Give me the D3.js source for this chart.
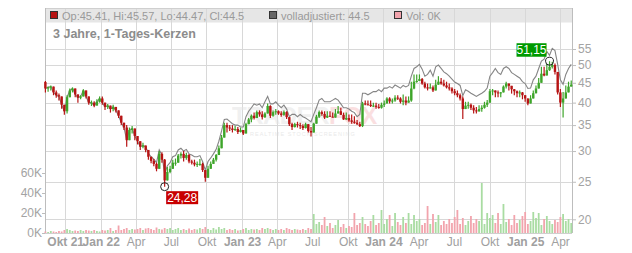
<!DOCTYPE html>
<html lang="de">
<head>
<meta charset="UTF-8">
<title>3 Jahre, 1-Tages-Kerzen</title>
<script src="https://cdn.jsdelivr.net/npm/d3@7"></script>
<style>
  html, body { margin: 0; background: #fff; }
  svg { display: block; font-family: "Liberation Sans", Arial, sans-serif; }
</style>
</head>
<body>
<svg id="chart" width="632" height="253"></svg>
<script>
// weekly candles (week of 2021-08-09 .. week of 2025-04-28)
const firstOpen = 45.2;
const closes = [
  43.5, 43.8, 44, 42.5, 41.8, 41.5, 39.5, 38,
  41.3, 43, 43.5, 42, 41.2, 41.5, 43, 41.5, 40,
  40, 39.3, 40.2, 41, 40, 39, 39.3, 38.5, 39,
  38.2, 37, 35.5, 34.5, 32, 34, 34.3, 32.8,
  31.8, 30.8, 31, 30.2, 29, 28.3, 27.8, 27, 29.5,
  28.5, 25.2, 26.5, 27, 28, 28, 29.2, 29.5,
  28.8, 29.3, 28.2, 28, 27.7, 27.8, 27.8, 26.8, 25.6,
  27, 27.8, 28.5, 29.3, 30.5, 32.5, 35, 34.5, 34.3,
  34, 34.2, 33.6, 34, 33.3, 35.2, 36.2, 37, 36.5,
  37.8, 37.3, 36.7, 37.5, 39.2, 37, 37.8, 38,
  37.5, 37.2, 37.8, 36.7, 35.2, 34.6, 35.2, 35, 34.8,
  34.4, 35.2, 33.8, 33.5, 35.3, 36.8, 37.8, 37.4, 36.6,
  37, 36.8, 36.6, 37.5, 38, 37.2, 36.2, 36.5, 36, 35.7, 35.5, 35.2, 34.8,
  39.8,
  39.6, 39.5, 39.2, 39.3, 39, 38.8, 39.5, 39.8, 41, 40.3, 40.5, 41.2, 41, 40.2,
  40.5, 40, 40.5, 43.5, 45.3, 45.5, 46, 44.8, 43.8, 43.5,
  43.8, 43, 44.5, 45.3, 44.8, 44.3, 43.8, 43.5, 42.8, 42.3,
  41.8, 41, 38.5, 39.3, 39.5, 38.8, 38.2, 38, 38.5, 38.8,
  39.5, 40, 42.8, 43, 42.5, 42.3, 42.5, 44, 44.8, 44.2,
  43.3, 42.8, 42.3, 42.5, 41.8, 41, 39.8, 41, 42.3, 43.5,
  45, 47.5, 47, 48.5, 49.5, 50, 48, 42.5, 40, 41,
  42.5, 44, 44.5
];
const highs = [
  45.5, 44, 44.3, 44, 43, 42.2, 41, 39.2,
  41.8, 43.5, 43.8, 43.5, 41.8, 41.8, 43.3, 43, 40.8,
  40.5, 40.3, 40.8, 41.5, 41.5, 40, 39.7, 39.2, 39.5,
  39, 37.8, 36.5, 35.5, 35, 34.5, 34.8, 34,
  32.5, 31.8, 31.5, 31, 29.7, 28.8, 28.6, 28, 30,
  29.8, 28.6, 27.3, 27.5, 28.5, 28.7, 29.5, 29.8,
  30, 29.7, 29.5, 28.5, 28.5, 28.2, 28.6, 28, 26.8,
  27.5, 28.2, 28.8, 29.5, 31, 33, 35.5, 35.5, 35,
  35, 34.8, 34.6, 34.5, 34, 35.5, 36.5, 37.3, 37.7,
  38.2, 38.2, 38, 37.8, 39.8, 39.4, 38.2, 38.5,
  38.2, 38, 38.2, 38, 36.5, 35.5, 35.5, 35.7, 35.5,
  35.2, 35.5, 35, 34.6, 35.5, 37.2, 38.2, 38.2, 38,
  38, 38, 37.7, 38.5, 39.2, 38.8, 37.7, 37.7, 37.3, 37.3, 36.9, 36.1, 35.7,
  40.2,
  40.5, 40.5, 40.5, 40, 40, 39.7, 40, 40.5, 41.3, 41.3, 41, 41.8, 41.8, 41.3,
  42, 41.5, 41.5, 45.3, 47.3, 47.3, 47.3, 46.3, 45.3, 44.8,
  44.8, 44.3, 45.8, 46.8, 46.3, 45.8, 45.3, 44.8, 43.8, 43.4,
  43, 42.2, 41.5, 40.2, 40.2, 39.8, 39.4, 39, 39.4, 39.4,
  40.2, 40.6, 43.4, 43.4, 43, 43, 42.6, 44.3, 45.3, 44.8,
  43.8, 43.4, 43, 43, 42.6, 41.8, 41, 41.8, 43, 44.3,
  46.3, 49.5, 49.5, 50.4, 51.15, 51, 50.5, 46.3, 43.4, 42.6,
  44.3, 45.3, 45.6
];
const lows = [
  42.5, 42.7, 43, 41.8, 41.2, 40.5, 38.6, 37.2,
  37.5, 41.5, 42.5, 41.3, 40, 40.8, 41.8, 41, 39.5,
  39.2, 38.9, 39.3, 40, 39.5, 38.3, 38.5, 37.7, 38,
  37.7, 36.5, 35, 34, 30.8, 33, 33.3, 32,
  31.2, 30.2, 30.5, 29.8, 28.5, 27.9, 27.4, 26.6, 28.8,
  28, 24.28, 26, 26.3, 27.4, 27.5, 28.5, 28.7,
  28.2, 28.5, 27.9, 27.7, 27.4, 27.3, 27.5, 26.5, 25,
  26, 27.2, 27.8, 28.2, 29.3, 30.5, 34, 33.5, 33.8,
  33.5, 33.8, 33.2, 33.5, 33, 33.8, 35.3, 35.6, 36.2,
  36.5, 36.8, 36.2, 36.5, 37.8, 36.5, 36.8, 37.2,
  37.2, 36.8, 37, 36.3, 34.8, 34, 34.5, 34.5, 34.2,
  34, 34.3, 33.5, 32.7, 33.8, 35.6, 36.5, 37, 36.3,
  36.5, 36.8, 36.6, 36.8, 37.5, 37.2, 36.1, 36.1, 35.7, 35.3, 35.3, 35, 34.6,
  34.6,
  39.4, 39.4, 39, 39, 38.6, 38.6, 38.6, 39, 40.2, 39.8, 39.8, 40.2, 40.6, 39.8,
  39.4, 39.4, 40.2, 40.2, 43.3, 45, 45.5, 44.5, 43.5, 43,
  43.5, 42.6, 43, 44.5, 44.5, 44, 43.5, 43, 42.2, 41.8,
  41.3, 40.5, 36.3, 38.5, 38.6, 38.3, 37.5, 37.5, 37.9, 37.9,
  38.6, 39, 40, 41.8, 41.3, 41.3, 41.3, 42.5, 43.5, 43,
  42.2, 41.8, 41.3, 41.3, 40.8, 40.2, 39.4, 39.8, 41, 42.2,
  43.5, 45, 46.8, 47, 48.3, 49, 47.3, 42, 39, 36.6,
  41, 42.6, 44.2
];
const adjusted = [
  43.5, 43.8, 44, 42.5, 41.8, 41.5, 39.5, 38,
  41.3, 43, 43.5, 42, 41.2, 41.5, 43, 41.5, 40,
  40, 39.3, 40.2, 41, 40, 39, 39.3, 38.5, 39,
  38.2, 37, 35.5, 34.5, 32, 34, 34.3, 32.8,
  31.8, 30.8, 31, 30.8, 29.6, 29, 28.6, 28, 30.2,
  29.3, 26.2, 27.5, 28, 29, 29.2, 30.2, 30.5,
  30, 30.3, 29.5, 29.3, 29, 29, 29.2, 28.2, 26.8,
  28.2, 28.8, 29.5, 30.3, 31.8, 33.8, 36.2,
  36.3, 35.8, 35.3, 35, 35, 34.6, 34.6, 36.8, 38, 38.8, 39.7,
  39.4, 39.7, 38.8, 40.2, 41.5, 39.7, 39.7, 40.2, 39.4, 38.8, 39.4, 38.5,
  36.8, 37.3, 37.3, 36.8, 37.3, 36.8, 36.5, 36.1, 35.7, 37.3, 38.8, 40.6, 41, 40.2,
  40.2, 40.2, 40.6, 41, 40.6, 39.7, 38.8, 38.8, 38.5, 38, 37.7, 36.8, 37.3,
  42.3, 42.3, 41.9, 42.3, 42.7, 42.7, 43.2, 42.7, 43.6, 43.6, 44, 43.6, 44.4, 44, 43.6,
  44.3, 43.9, 44.3, 46.8, 49, 49.5, 50.2, 48.8, 46.8, 47.3, 48.5, 46.8, 49.5, 50, 49, 48, 47.5, 46.8,
  46, 45.2, 44.8, 44.3, 41.7, 43.2, 42.8, 42.3, 41.9, 41.5, 41.9, 42.3, 42.8, 43.6, 46.8, 47.8, 49, 47.8, 47.3, 49,
  49.5, 49, 47.8, 47.3, 46.8, 46.3, 45.3, 44.8, 43.5, 43.6, 45.8, 46.8, 49, 51.2, 51.8, 54.2, 53, 55.2, 54.5, 50.2,
  45.8, 44.6, 47.3, 49, 50.2
];
// volume in thousands
const volume = [
  1.5, 1, 2, 1.5, 1, 2, 1.5, 3,
  4, 3, 2, 2.5, 2, 3, 2, 3, 2.5,
  2, 3, 2, 1.5, 3, 2.5, 3, 5, 2,
  3, 7.5, 3, 4, 5, 3, 4, 3.5,
  4, 5, 3, 4.5, 5, 4, 3, 5.5, 4,
  3.5, 5, 4, 5, 3, 4, 5, 3,
  4, 3, 4.5, 3, 4, 3.5, 5, 4, 6,
  4, 3, 5, 3.5, 6, 4, 5, 3, 4,
  3, 4, 2.5, 3, 4, 5, 3, 4, 3.5,
  4, 3, 5, 4, 5, 4, 3, 4,
  3, 4, 3, 5, 4, 3, 4, 3.5, 3,
  4, 3, 5, 4, 19, 9, 11, 8, 16,
  7, 10, 5, 8, 13, 6, 9, 5, 7, 6, 20, 8, 10,
  16, 9, 7, 12, 18, 8, 10, 23, 9, 14, 18, 7, 20, 11, 8,
  16, 10, 20, 9, 18, 12, 14, 8, 10, 27, 9, 19, 11, 18, 8, 12, 9, 14,
  10, 16, 23, 9, 15, 8, 12, 17, 10, 14, 12, 50, 9, 20, 15, 18, 10, 20, 9, 29,
  11, 14, 8, 18, 10, 13, 17, 21, 9, 12, 21, 15, 20, 8, 14, 17, 12, 9, 13, 11,
  16, 19, 12, 14, 10
];

const tickLabels = ["Okt 21", "Jan 22", "Apr", "Jul", "Okt", "Jan 23", "Apr", "Jul", "Okt",
  "Jan 24", "Apr", "Jul", "Okt", "Jan 25", "Apr"];
const priceTicks = [20, 25, 30, 35, 40, 45, 50, 55];
const volTicks = [0, 20, 40, 60];

const plotL = 45, plotR = 572, plotT = 8, plotB = 233;
const svg = d3.select("#chart");

const weeks = closes.map((c, i) => d3.timeDay.offset(new Date(2021, 7, 11), 7 * i));
const opens = closes.map((c, i) => i === 0 ? firstOpen : closes[i - 1]);
const rows = closes.map((c, i) => ({
  date: weeks[i], open: opens[i], close: c, high: highs[i], low: lows[i],
  adj: adjusted[i], vol: volume[i], up: c >= opens[i]
}));

const x = d3.scaleTime()
  .domain([new Date(2021, 7, 10), new Date(2025, 4, 2)])
  .range([plotL, plotR]);
const y = d3.scaleLog().domain([18.44, 70.17]).range([plotB, plotT]);
const yVol = d3.scaleLinear().domain([0, 60]).range([plotB, plotB - 60]);

const tickDates = d3.timeMonth.every(3).range(new Date(2021, 9, 1), new Date(2025, 4, 1));

// header band
svg.append("rect")
  .attr("x", plotL).attr("y", plotT)
  .attr("width", plotR - plotL).attr("height", 14.5)
  .attr("fill", "#e6e6e6");

// grid
svg.append("g")
  .selectAll("line")
  .data(tickDates)
  .join("line")
  .attr("x1", d => Math.round(x(d)) + 0.5).attr("x2", d => Math.round(x(d)) + 0.5)
  .attr("y1", plotT).attr("y2", plotB)
  .attr("stroke", "#d8d8d8");

svg.append("g")
  .selectAll("line")
  .data(priceTicks)
  .join("line")
  .attr("x1", plotL).attr("x2", plotR)
  .attr("y1", d => Math.round(y(d)) + 0.5).attr("y2", d => Math.round(y(d)) + 0.5)
  .attr("stroke", "#d8d8d8");

// frame
svg.append("line").attr("x1", plotL).attr("x2", plotR).attr("y1", plotT + 0.5).attr("y2", plotT + 0.5).attr("stroke", "#cfcfcf");
svg.append("line").attr("x1", plotL).attr("x2", plotR).attr("y1", plotB + 0.5).attr("y2", plotB + 0.5).attr("stroke", "#cfcfcf");
svg.append("line").attr("x1", plotL + 0.5).attr("x2", plotL + 0.5).attr("y1", plotT).attr("y2", plotB).attr("stroke", "#bdbdbd");
svg.append("line").attr("x1", plotR + 0.5).attr("x2", plotR + 0.5).attr("y1", plotT).attr("y2", plotB).attr("stroke", "#bdbdbd");

// watermark
const wm = svg.append("g").attr("opacity", 0.55);
wm.append("text")
  .attr("x", 232).attr("y", 124)
  .attr("font-size", 24).attr("font-weight", "bold").attr("letter-spacing", -0.5)
  .attr("fill", "#e4e4e4")
  .text("TRADER")
  .append("tspan").attr("fill", "#f6c6c8").text("FOX");
wm.append("text")
  .attr("x", 250).attr("y", 136)
  .attr("font-size", 5.5).attr("letter-spacing", 1)
  .attr("fill", "#d8d8d8")
  .text("REALTIME STOCK SCREENING");

// volume bars
svg.append("g")
  .selectAll("rect")
  .data(rows)
  .join("rect")
  .attr("x", d => x(d.date) - 0.9)
  .attr("width", 1.8)
  .attr("y", d => yVol(d.vol))
  .attr("height", d => yVol(0) - yVol(d.vol))
  .attr("fill", d => d.up ? "#a9dca2" : "#f2a4ad");

// adjusted line
svg.append("path")
  .datum(rows)
  .attr("fill", "none")
  .attr("stroke", "#858585")
  .attr("stroke-width", 1.1)
  .attr("d", d3.line().x(d => x(d.date)).y(d => y(d.adj)));

// candles
const candle = svg.append("g")
  .selectAll("g")
  .data(rows)
  .join("g")
  .attr("fill", d => d.up ? "#3ea52a" : "#b71414")
  .attr("stroke", d => d.up ? "#3ea52a" : "#b71414");

candle.append("line")
  .attr("x1", d => x(d.date)).attr("x2", d => x(d.date))
  .attr("y1", d => y(Math.max(d.high, d.open, d.close)))
  .attr("y2", d => y(Math.min(d.low, d.open, d.close)))
  .attr("stroke-width", 1.2);

candle.append("rect")
  .attr("stroke", "none")
  .attr("x", d => x(d.date) - 1.2)
  .attr("width", 2.4)
  .attr("y", d => y(Math.max(d.open, d.close)))
  .attr("height", d => Math.max(1, y(Math.min(d.open, d.close)) - y(Math.max(d.open, d.close))));

// min / max markers
const iMin = d3.minIndex(rows, d => d.low);
const iMax = d3.maxIndex(rows, d => d.high);
const fmt = v => d3.format(".2f")(v).replace(".", ",");

const minX = x(rows[iMin].date), minY = y(rows[iMin].low);
svg.append("rect").attr("x", minX + 1.5).attr("y", minY + 4.5).attr("width", 32).attr("height", 13).attr("fill", "#c80000");
svg.append("text").attr("x", minX + 17.5).attr("y", minY + 15.5).attr("text-anchor", "middle")
  .attr("font-size", 12).attr("fill", "#fff").text(fmt(rows[iMin].low));
svg.append("circle").attr("cx", minX).attr("cy", minY).attr("r", 4)
  .attr("fill", "none").attr("stroke", "#222");

const maxX = x(rows[iMax].date), maxY = y(rows[iMax].high);
svg.append("rect").attr("x", maxX - 33).attr("y", maxY - 18).attr("width", 30).attr("height", 13.5).attr("fill", "#009a00");
svg.append("text").attr("x", maxX - 18).attr("y", maxY - 7.5).attr("text-anchor", "middle")
  .attr("font-size", 12).attr("fill", "#fff").text(fmt(rows[iMax].high));
svg.append("circle").attr("cx", maxX).attr("cy", maxY).attr("r", 4)
  .attr("fill", "none").attr("stroke", "#222");

// axes
const axisColor = "#a3a3a3";
const xAxis = svg.append("g")
  .attr("transform", `translate(0,${plotB})`)
  .call(d3.axisBottom(x).tickValues(tickDates).tickFormat((d, i) => tickLabels[i]).tickSize(0).tickPadding(4));
xAxis.select(".domain").remove();
xAxis.selectAll("text")
  .attr("font-size", 12)
  .attr("font-family", "Liberation Sans, Arial, sans-serif")
  .attr("fill", "#a0a0a0")
  .attr("font-weight", (d, i) => tickLabels[i].includes(" ") ? "bold" : "normal");

const yAxis = svg.append("g")
  .attr("transform", `translate(${plotR},0)`)
  .call(d3.axisRight(y).tickValues(priceTicks).tickFormat(d3.format("d")).tickSize(4).tickPadding(2));
yAxis.select(".domain").remove();
yAxis.selectAll("line").attr("stroke", "#bdbdbd");
yAxis.selectAll("text").attr("font-size", 12).attr("font-family", "Liberation Sans, Arial, sans-serif").attr("fill", axisColor);

const vAxis = svg.append("g")
  .attr("transform", `translate(${plotL},0)`)
  .call(d3.axisLeft(yVol).tickValues(volTicks).tickFormat(d => d + "K").tickSize(3).tickPadding(0));
vAxis.select(".domain").remove();
vAxis.selectAll("line").attr("stroke", "#bdbdbd");
vAxis.selectAll("text").attr("font-size", 12).attr("font-family", "Liberation Sans, Arial, sans-serif").attr("fill", axisColor);

// legend in header
const legendItems = [
  { x: 50.5, fill: "#b71414", text: "Op:45.41, Hi:45.57, Lo:44.47, Cl:44.5" },
  { x: 269.5, fill: "#666666", text: "volladjustiert: 44.5" },
  { x: 394.5, fill: "#f2a4ad", text: "Vol: 0K" }
];
const lg = svg.append("g").selectAll("g").data(legendItems).join("g");
lg.append("rect")
  .attr("x", d => d.x).attr("y", 11.5).attr("width", 7).attr("height", 7)
  .attr("fill", d => d.fill).attr("stroke", "#333");
lg.append("text")
  .attr("x", d => d.x + 11.5).attr("y", 19.5)
  .attr("font-size", 11).attr("fill", "#9a9a9a")
  .text(d => d.text);

svg.append("text")
  .attr("x", 53).attr("y", 37.5)
  .attr("font-size", 12.5).attr("font-weight", "bold").attr("fill", "#8c8c8c")
  .text("3 Jahre, 1-Tages-Kerzen");
</script>
</body>
</html>
